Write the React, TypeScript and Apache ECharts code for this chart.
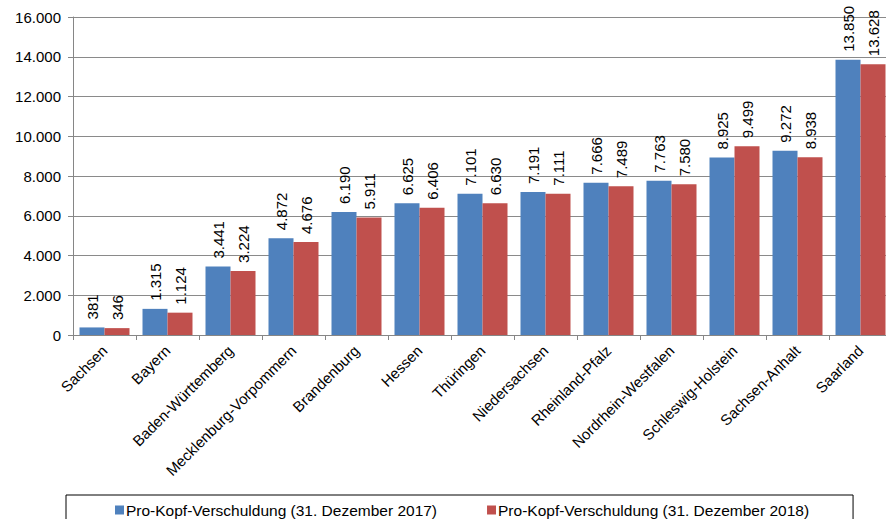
import React, { useEffect, useRef } from "react";
import * as echarts from "echarts";

const categories = [
  "Sachsen", "Bayern", "Baden-Württemberg", "Mecklenburg-Vorpommern", "Brandenburg", "Hessen",
  "Thüringen", "Niedersachsen", "Rheinland-Pfalz", "Nordrhein-Westfalen", "Schleswig-Holstein",
  "Sachsen-Anhalt", "Saarland",
];
const series2017 = [381, 1315, 3441, 4872, 6190, 6625, 7101, 7191, 7666, 7763, 8925, 9272, 13850];
const series2018 = [346, 1124, 3224, 4676, 5911, 6406, 6630, 7111, 7489, 7580, 9499, 8938, 13628];
const seriesNames = [
  "Pro-Kopf-Verschuldung (31. Dezember 2017)",
  "Pro-Kopf-Verschuldung (31. Dezember 2018)",
];
const colors = ["#4F81BD", "#C0504D"];

const fmt = (v: number) => String(v).replace(/\B(?=(\d{3})+(?!\d))/g, ".");
const FONT = "Liberation Sans, Arial, sans-serif";

export default function App() {
  const ref = useRef<HTMLDivElement>(null);
  useEffect(() => {
    const chart = echarts.init(ref.current!, null, { renderer: "svg" });
    const label = {
      show: true,
      position: "top" as const,
      rotate: 90,
      align: "left" as const,
      verticalAlign: "middle" as const,
      distance: 8,
      color: "#000",
      fontSize: 15,
      fontFamily: FONT,
      formatter: (p: any) => fmt(p.value),
    };
    chart.setOption({
      animation: false,
      backgroundColor: "#fff",
      grid: { left: 73, top: 17, right: -6, bottom: 184, containLabel: false, outerBoundsMode: "none" },
      legend: {
        left: 66,
        top: 495,
        itemWidth: 9,
        itemHeight: 9,
        itemGap: 50,
        icon: "rect",
        padding: [7, 44, 20, 49],
        borderColor: "#000",
        borderWidth: 1,
        textStyle: { fontFamily: FONT, fontSize: 15.5, color: "#000", padding: [0, 0, 0, -3] },
        data: seriesNames,
      },
      xAxis: {
        type: "category",
        data: categories,
        axisLine: { lineStyle: { color: "#868686" } },
        axisTick: { show: true, length: 5, lineStyle: { color: "#868686" } },
        axisLabel: { interval: 0, rotate: 45, margin: 13, color: "#000", fontSize: 15, fontFamily: FONT },
      },
      yAxis: {
        type: "value",
        min: 0,
        max: 16000,
        interval: 2000,
        axisLine: { show: true, lineStyle: { color: "#868686" } },
        axisTick: { show: true, length: 5, lineStyle: { color: "#868686" } },
        splitLine: { lineStyle: { color: "#8a8a8a", width: 1 } },
        axisLabel: { color: "#000", fontSize: 15, fontFamily: FONT, margin: 12, formatter: (v: number) => fmt(v) },
      },
      series: [
        {
          name: seriesNames[0],
          type: "bar",
          data: series2017,
          barWidth: 25,
          barGap: "0%",
          itemStyle: { color: colors[0] },
          label,
        },
        {
          name: seriesNames[1],
          type: "bar",
          data: series2018,
          barWidth: 25,
          barGap: "0%",
          itemStyle: { color: colors[1] },
          label,
        },
      ],
    });
    return () => chart.dispose();
  }, []);
  return <div ref={ref} style={{ width: 886, height: 519, position: "absolute", left: 0, top: 0 }} />;
}
